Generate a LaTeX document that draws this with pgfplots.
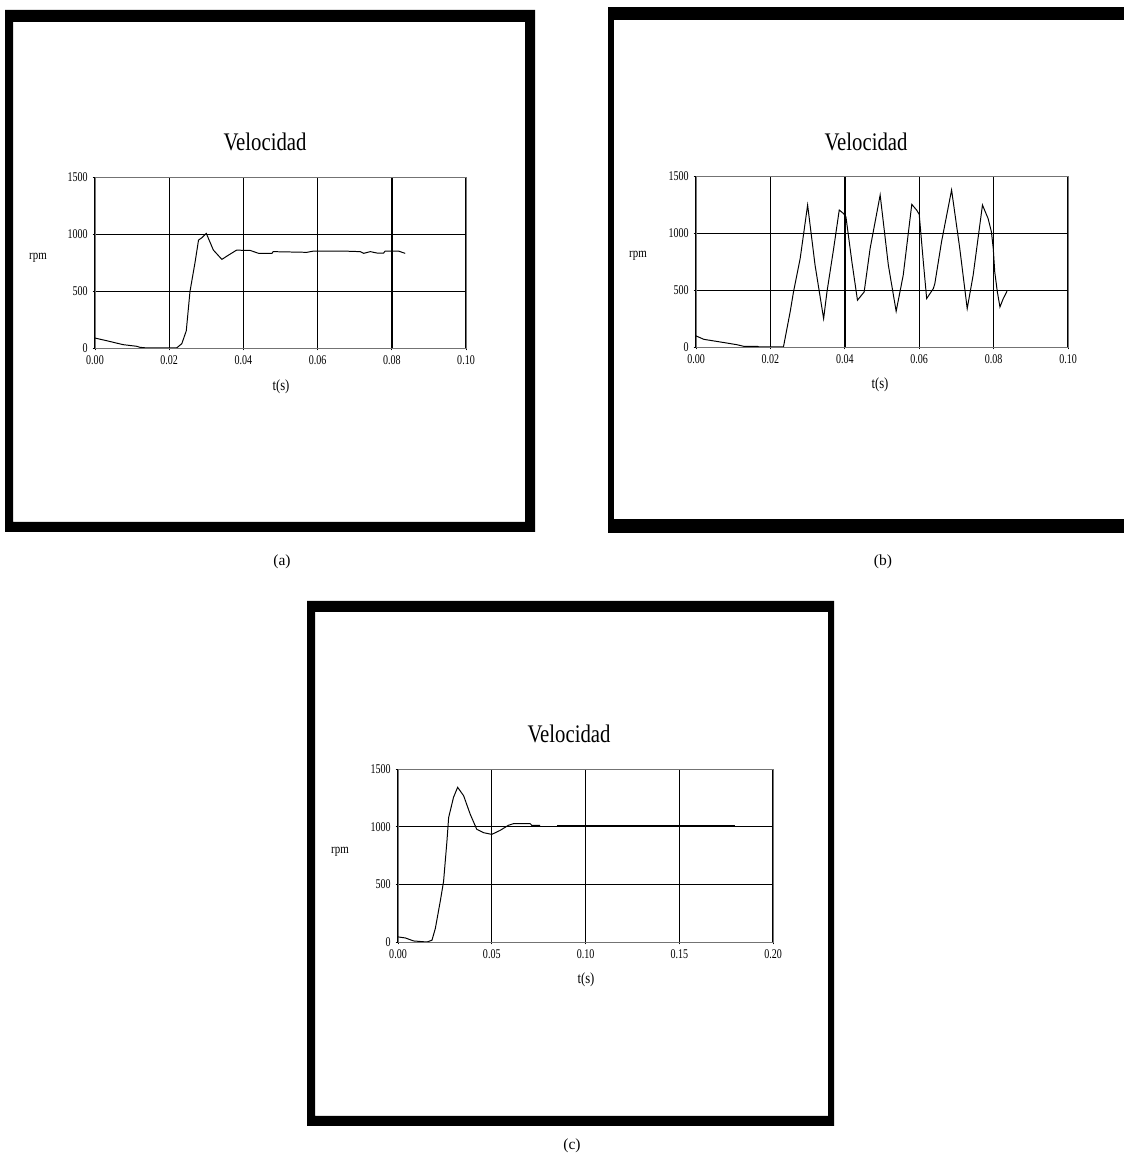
\documentclass[border=0pt]{standalone}
\usepackage{fontspec}
\setmainfont{Liberation Serif}
\newfontfamily\cond[FakeStretch=0.82]{Liberation Serif}
\newfontfamily\condt[FakeStretch=0.75]{Liberation Serif}
\usepackage{pgfplots}
\pgfplotsset{compat=1.18}
\pgfplotsset{
  vel/.style={
    scale only axis, anchor=south west,
    xmin=0, ymin=0, ymax=1500,
    ytick={0,500,1000,1500},
    grid=major,
    major x grid style={black, line width=1pt},
    major y grid style={black, line width=0.55pt},
    axis line style={black!55, line width=0.6pt},
    tick style={black, line width=0.5pt},
    major tick length=0.6mm,
    tick align=outside,
    xtick pos=left, ytick pos=left,
    scaled x ticks=false, scaled y ticks=false,
    /pgf/number format/assume math mode=true,
    /pgf/number format/1000 sep={},
    xticklabel style={/pgf/number format/fixed, /pgf/number format/fixed zerofill, /pgf/number format/precision=2},
    tick label style={font=\condt\fontsize{9.5}{11}\selectfont},
  },
  curve/.style={black, line width=0.7pt, mark=none},
}
\begin{document}
\begin{tikzpicture}[x=0.25mm,y=0.25mm]
\useasboundingbox (0,0) rectangle (1124,1163);
% frames
\fill[black, even odd rule] (5,631) rectangle (535,1153) (13,641) rectangle (525,1141);
\fill[black] (608,630) rectangle (1130,644);
\fill[black] (608,630) rectangle (614,1156);
\fill[black] (608,1143) rectangle (1130,1156);
\fill[black, even odd rule] (307,37) rectangle (834,562) (315,47) rectangle (828,551);

% (a)
\begin{axis}[vel, at={(23.75mm,203.75mm)}, width=92.75mm, height=42.75mm, xmax=0.1,
  xtick={0,0.02,0.04,0.06,0.08,0.1}]
\addplot[curve] coordinates {
(0,87) (0.0031,64) (0.0076,29) (0.0112,15) (0.0121,6) (0.014,0) (0.022,0)
(0.0234,38) (0.0246,150) (0.0256,495) (0.027,757) (0.0279,946) (0.0288,967)
(0.0300,1005) (0.0319,859) (0.0342,777) (0.036,815) (0.0382,859) (0.040,856)
(0.0418,856) (0.0441,830) (0.0477,830) (0.048,845) (0.0571,839) (0.0589,850)
(0.067,850) (0.0715,845) (0.0724,830) (0.0742,845) (0.076,833) (0.0778,833)
(0.0782,850) (0.0818,850) (0.0836,830)
};
\end{axis}

% (b)
\begin{axis}[vel, at={(174mm,204mm)}, width=93mm, height=42.75mm, xmax=0.1,
  xtick={0,0.02,0.04,0.06,0.08,0.1}]
\addplot[curve] coordinates {
(0,97) (0.0021,67) (0.0065,44) (0.011,20) (0.0128,6) (0.0164,6) (0.0170,0)
(0.0235,0) (0.0253,307) (0.0262,483) (0.028,776) (0.0300,1245) (0.032,718)
(0.0343,249) (0.0352,483) (0.037,864) (0.0385,1201) (0.0396,1172) (0.0403,1142)
(0.0419,747) (0.0434,410) (0.0452,483) (0.0468,864) (0.0495,1333) (0.0517,718)
(0.0538,313) (0.0557,630) (0.058,1251) (0.0593,1201) (0.06,1163) (0.0611,747)
(0.062,425) (0.0638,513) (0.0642,556) (0.066,923) (0.0687,1377) (0.0709,864)
(0.0729,337) (0.0745,630) (0.077,1245) (0.0785,1128) (0.0794,1011) (0.0799,864)
(0.0803,659) (0.081,483) (0.0817,351) (0.0826,425) (0.0836,489)
};
\end{axis}

% (c)
\begin{axis}[vel, at={(99.5mm,55.25mm)}, width=93.75mm, height=43.25mm, xmax=0.2,
  xtick={0,0.05,0.1,0.15,0.2}]
\addplot[curve] coordinates {
(0,44) (0.0039,35) (0.0083,9) (0.0154,0) (0.0181,15) (0.0199,117) (0.0225,350)
(0.0243,525) (0.0261,875) (0.027,1079) (0.0296,1254) (0.0318,1341) (0.035,1268)
(0.0385,1108) (0.042,977) (0.0456,948) (0.05,933) (0.0545,968) (0.0589,1012)
(0.0616,1026) (0.0705,1026) (0.0713,1012) (0.0758,1012)
};
\addplot[curve, line width=1.3pt] coordinates {(0.0847,1006) (0.1796,1006)};
\end{axis}

% texts
\begin{scope}[every node/.style={inner sep=0pt}]
\node[font=\cond\fontsize{18}{20}\selectfont] at (265,1021) {Velocidad};
\node[font=\cond\fontsize{18}{20}\selectfont] at (866,1021) {Velocidad};
\node[font=\cond\fontsize{18}{20}\selectfont] at (569,429) {Velocidad};
\node[font=\cond\fontsize{9.5}{11}\selectfont] at (38,905) {rpm};
\node[font=\cond\fontsize{9.5}{11}\selectfont] at (638,907) {rpm};
\node[font=\cond\fontsize{9.5}{11}\selectfont] at (340,311) {rpm};
\node[font=\cond\fontsize{11}{13}\selectfont] at (281,776) {t(s)};
\node[font=\cond\fontsize{11}{13}\selectfont] at (880,778) {t(s)};
\node[font=\cond\fontsize{11}{13}\selectfont] at (586,183) {t(s)};
\node[font=\fontsize{11}{13}\selectfont] at (282,601) {(a)};
\node[font=\fontsize{11}{13}\selectfont] at (883,601) {(b)};
\node[font=\fontsize{11}{13}\selectfont] at (572,17) {(c)};
\end{scope}
\end{tikzpicture}
\end{document}
